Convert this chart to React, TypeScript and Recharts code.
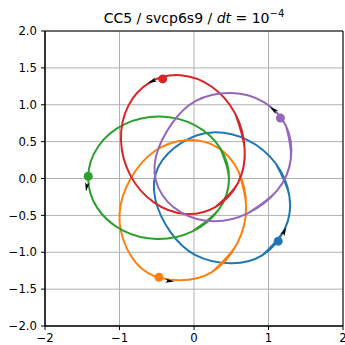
import React from 'react';
import { ComposedChart, Line, Scatter, XAxis, YAxis, CartesianGrid, ReferenceArea } from 'recharts';

type P = { x: number; y: number };

// Orbit traces: 12 points read around each loop, counter-clockwise
const blueOrbit = [[1.28,-0.235],[1.10,0.20],[0.72,0.52],[0.25,0.625],[-0.16,0.49],[-0.478,0.16],[-0.52,-0.28],[-0.32,-0.72],[0.02,-1.04],[0.49,-1.15],[0.92,-1.04],[1.22,-0.68]];
const orangeOrbit = [[0.70,-0.38],[0.60,0.09],[0.32,0.42],[-0.10,0.52],[-0.53,0.37],[-0.85,0.0],[-1.0,-0.48],[-0.90,-0.95],[-0.62,-1.28],[-0.20,-1.38],[0.24,-1.27],[0.58,-0.88]];
const greenOrbit = [[0.47,-0.005],[0.353,0.41],[0.015,0.72],[-0.455,0.84],[-0.93,0.736],[-1.283,0.438],[-1.42,0.025],[-1.303,-0.392],[-0.965,-0.70],[-0.495,-0.82],[-0.02,-0.716],[0.333,-0.418]];
const redOrbit = [[0.68,0.40],[0.554,0.878],[0.239,1.244],[-0.18,1.40],[-0.591,1.304],[-0.884,0.982],[-0.98,0.52],[-0.854,0.042],[-0.539,-0.324],[-0.12,-0.48],[0.291,-0.384],[0.59,-0.06]];
const purpleOrbit = [[1.30,0.27],[1.237,0.708],[0.944,1.033],[0.50,1.16],[0.024,1.053],[-0.30,0.74],[-0.51,0.30],[-0.477,-0.128],[-0.184,-0.453],[0.26,-0.58],[0.72,-0.473],[1.117,-0.162]];

// Current body positions
const blueBody = [[1.13, -0.85]];
const orangeBody = [[-0.47, -1.34]];
const greenBody = [[-1.42, 0.03]];
const redBody = [[-0.42, 1.35]];
const purpleBody = [[1.16, 0.82]];

// Direction arrows: x, y, dx, dy
const arrowX = [-0.56, 1.07, -1.44, 1.21, -0.33];
const arrowY = [1.32, 0.93, -0.11, -0.72, -1.39];
const arrowDX = [-1, -1, -0.15, 0.5, 1];
const arrowDY = [-0.45, 0.75, -1, 1, -0.1];

const X_TICKS = [-2, -1, 0, 1, 2];
const Y_TICKS = [-2, -1.5, -1, -0.5, 0, 0.5, 1, 1.5, 2];

const toPts = (a: number[][]): P[] => a.map(([x, y]) => ({ x, y }));
// closed loop: wrap two points on each side so the spline joins smoothly
const loop = (a: number[][]): P[] => {
  const n = a.length;
  return toPts([a[n - 2], a[n - 1], ...a, a[0], a[1]]);
};

const arrows = arrowX.map((x, i) => ({ x, y: arrowY[i], dx: arrowDX[i], dy: arrowDY[i] }));

const minus = (s: string) => s.replace('-', '\u2212');
const fmtX = (v: number) => minus(String(v));
const fmtY = (v: number) => minus(v.toFixed(1));

const FONT = 'DejaVu Sans';

const ArrowShape = (props: any) => {
  const { cx, cy, payload } = props;
  const len = Math.hypot(payload.dx, payload.dy);
  const ux = payload.dx / len;
  const uy = -payload.dy / len;
  const px = -uy;
  const py = ux;
  const pts = [
    [cx + ux * 5, cy + uy * 5],
    [cx - ux * 4 + px * 2.2, cy - uy * 4 + py * 2.2],
    [cx - ux * 2, cy - uy * 2],
    [cx - ux * 4 - px * 2.2, cy - uy * 4 - py * 2.2],
  ];
  return <polygon points={pts.map((p) => p.join(',')).join(' ')} fill="#000" />;
};

const dotShape = (color: string) => (props: any) => (
  <circle cx={props.cx} cy={props.cy} r={4.5} fill={color} />
);

const series = [
  { name: 'blue', data: blueOrbit, body: blueBody, color: '#1f77b4' },
  { name: 'orange', data: orangeOrbit, body: orangeBody, color: '#ff7f0e' },
  { name: 'green', data: greenOrbit, body: greenBody, color: '#2ca02c' },
  { name: 'red', data: redOrbit, body: redBody, color: '#d62728' },
  { name: 'purple', data: purpleOrbit, body: purpleBody, color: '#9467bd' },
];

export default function App() {
  const tickStyle = { fontFamily: FONT, fontSize: 11.7, fill: '#000' };
  return (
    <div style={{ position: 'absolute', left: 0, top: 0, width: 345, height: 345, background: '#fff' }}>
      <ComposedChart width={345} height={345} margin={{ top: 31, right: 2, bottom: 0, left: 0 }}>
        <CartesianGrid stroke="#b0b0b0" strokeWidth={1} />
        <XAxis
          type="number"
          dataKey="x"
          domain={[-2, 2]}
          ticks={X_TICKS}
          interval={0}
          allowDataOverflow
          tickFormatter={fmtX}
          height={19}
          tickSize={4}
          tickMargin={4}
          tick={tickStyle}
          stroke="#000"
          axisLine={{ stroke: '#000' }}
          tickLine={{ stroke: '#000' }}
        />
        <YAxis
          type="number"
          dataKey="y"
          domain={[-2, 2]}
          ticks={Y_TICKS}
          interval={0}
          allowDataOverflow
          tickFormatter={fmtY}
          width={45}
          tickSize={4}
          tickMargin={4}
          tick={tickStyle}
          stroke="#000"
          axisLine={{ stroke: '#000' }}
          tickLine={{ stroke: '#000' }}
        />
        <ReferenceArea x1={-2} x2={2} y1={-2} y2={2} fill="none" stroke="#000" strokeWidth={1} fillOpacity={0} />
        {series.map((s) => (
          <Line
            key={s.name}
            data={loop(s.data)}
            dataKey="y"
            type="natural"
            stroke={s.color}
            strokeWidth={2}
            dot={false}
            activeDot={false}
            isAnimationActive={false}
          />
        ))}
        {series.map((s) => (
          <Scatter
            key={s.name + '-body'}
            data={toPts(s.body)}
            dataKey="y"
            shape={dotShape(s.color)}
            isAnimationActive={false}
          />
        ))}
        <Scatter data={arrows} dataKey="y" shape={ArrowShape} isAnimationActive={false} />
      </ComposedChart>
      <svg width={345} height={40} style={{ position: 'absolute', left: 0, top: 0, pointerEvents: 'none' }}>
        <text x={194} y={23} textAnchor="middle" fontFamily={FONT} fontSize={14} fill="#000">
          CC5 / svcp6s9 / <tspan fontStyle="italic">dt</tspan> = 10<tspan dy={-6} fontSize={10}>{'\u2212'}4</tspan>
        </text>
      </svg>
    </div>
  );
}
